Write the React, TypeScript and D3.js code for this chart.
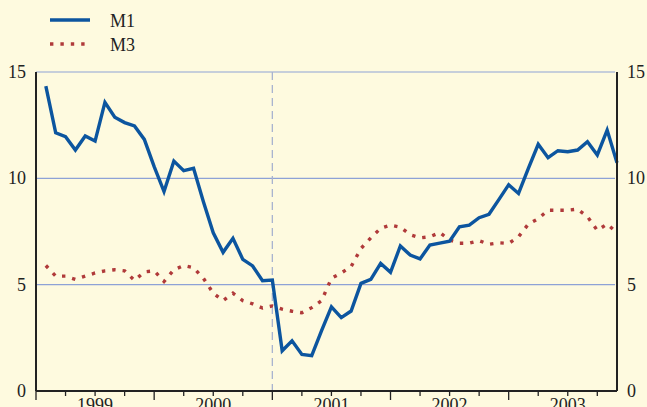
import React from "react";
import * as d3 from "d3";

const years = ["1999", "2000", "2001", "2002", "2003"];
const yTicks = [0, 5, 10, 15];
const m1 = [
  14.34, 12.14, 11.96, 11.33, 11.99, 11.75, 13.57, 12.87, 12.62, 12.46, 11.83, 10.55,
  9.38, 10.81, 10.36, 10.47, 8.9, 7.44, 6.52, 7.18, 6.19, 5.88, 5.19, 5.22,
  1.89, 2.36, 1.72, 1.66, 2.84, 3.96, 3.45, 3.76, 5.06, 5.25, 6.0, 5.58,
  6.82, 6.39, 6.21, 6.86, 6.95, 7.04, 7.72, 7.8, 8.15, 8.31, 9.0, 9.7,
  9.29, 10.47, 11.6, 10.97, 11.3, 11.25, 11.33, 11.72, 11.1, 12.27, 10.73,
];
const m3 = [
  5.9, 5.4, 5.4, 5.25, 5.4, 5.55, 5.65, 5.7, 5.65, 5.2, 5.6, 5.65,
  5.15, 5.7, 5.9, 5.8, 5.3, 4.6, 4.25, 4.6, 4.25, 4.1, 3.9, 4.0,
  3.85, 3.75, 3.68, 3.92, 4.25, 5.3, 5.55, 5.85, 6.7, 7.2, 7.65, 7.8,
  7.7, 7.35, 7.2, 7.25, 7.45, 7.1, 6.95, 6.95, 7.07, 6.9, 6.97, 6.94,
  7.25, 7.85, 8.1, 8.5, 8.5, 8.5, 8.55, 8.2, 7.55, 7.85, 7.45,
];

export default function App() {
  const W = 647, H = 407;
  const left = 36, right = 617, top = 72, bottom = 391;
  const x = d3.scaleLinear().domain([0, 59]).range([left, right]);
  const y = d3.scaleLinear().domain([0, 15]).range([bottom, top]);
  const line = d3.line<number>().x((_, i) => x(i + 1)).y((d) => y(d));
  const quarterTicks = d3.range(0, 60, 3);
  const font = "'Liberation Serif', 'DejaVu Serif', serif";
  const bg = "#fefadf";
  return (
    <svg width={W} height={H} style={{ position: "absolute", left: 0, top: 0, background: bg }}>
      <rect x={0} y={0} width={W} height={H} fill={bg} />
      {yTicks.filter((t) => t > 0).map((t) => (
        <line key={"g" + t} x1={left} x2={right - 2} y1={y(t)} y2={y(t)} stroke="#8ea2d6" strokeWidth={1.2} />
      ))}
      <line x1={x(24)} x2={x(24)} y1={top} y2={bottom} stroke="#a9b4cf" strokeWidth={1.3} strokeDasharray="8,5" />
      <path d={line(m3) || ""} fill="none" stroke="#b03a3a" strokeWidth={3.4} strokeDasharray="3.4,7" />
      <path d={line(m1) || ""} fill="none" stroke="#0c559f" strokeWidth={3.4} strokeLinejoin="miter" />
      <line x1={left} x2={left} y1={top} y2={bottom} stroke="#222" strokeWidth={2} />
      <line x1={right} x2={right} y1={top} y2={bottom} stroke="#222" strokeWidth={2} />
      <line x1={left} x2={right} y1={bottom} y2={bottom} stroke="#222" strokeWidth={2} />
      {quarterTicks.map((q) => (
        <line key={"t" + q} x1={x(q)} x2={x(q)} y1={bottom} y2={bottom + (q % 12 === 0 ? 9 : 5)} stroke="#222" strokeWidth={1.3} />
      ))}
      {years.map((yr, i) => (
        <text key={yr} x={x(i * 12 + 6)} y={411} textAnchor="middle" fontFamily={font} fontSize={18} fill="#222">{yr}</text>
      ))}
      {yTicks.map((t) => (
        <g key={"l" + t}>
          <text x={26} y={y(t) + 6} textAnchor="end" fontFamily={font} fontSize={18} fill="#222">{t}</text>
          <text x={627} y={y(t) + 6} textAnchor="start" fontFamily={font} fontSize={18} fill="#222">{t}</text>
        </g>
      ))}
      <line x1={50} x2={90} y1={20} y2={20} stroke="#0c559f" strokeWidth={3.4} />
      <text x={110} y={27} fontFamily={font} fontSize={18} fill="#222">M1</text>
      <line x1={50} x2={90} y1={44} y2={44} stroke="#b03a3a" strokeWidth={3.4} strokeDasharray="3.4,7" />
      <text x={110} y={51} fontFamily={font} fontSize={18} fill="#222">M3</text>
    </svg>
  );
}
